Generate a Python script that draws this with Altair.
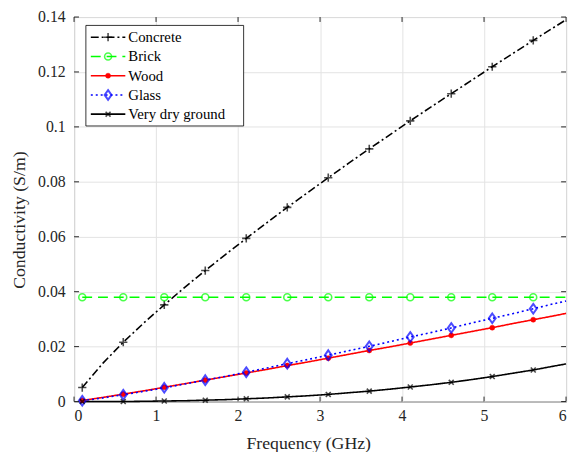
import altair as alt
import pandas as pd

# ---------------- data ----------------
materials = ["Concrete", "Brick", "Wood", "Glass", "Very dry ground"]

freq = [0.1, 0.35, 0.6, 0.85, 1.1, 1.35, 1.6, 1.85, 2.1, 2.35, 2.6, 2.85, 3.1,
        3.35, 3.6, 3.85, 4.1, 4.35, 4.6, 4.85, 5.1, 5.35, 5.6, 5.85, 6.0]

marker_freq = [0.1, 0.6, 1.1, 1.6, 2.1, 2.6, 3.1, 3.6, 4.1, 4.6, 5.1, 5.6]

concrete = [0.0051, 0.0139, 0.0216, 0.0286, 0.0352, 0.0416, 0.0477, 0.0536, 0.0594,
            0.0651, 0.0707, 0.0761, 0.0815, 0.0868, 0.0920, 0.0971, 0.1022, 0.1072,
            0.1121, 0.1170, 0.1219, 0.1267, 0.1315, 0.1362, 0.1390]
brick = [0.038, 0.038, 0.038, 0.038, 0.038, 0.038, 0.038, 0.038, 0.038, 0.038,
         0.038, 0.038, 0.038, 0.038, 0.038, 0.038, 0.038, 0.038, 0.038, 0.038,
         0.038, 0.038, 0.038, 0.038, 0.038]
wood = [0.0004, 0.0015, 0.0027, 0.0039, 0.0052, 0.0065, 0.0078, 0.0091, 0.0104,
        0.0117, 0.0131, 0.0144, 0.0158, 0.0172, 0.0186, 0.0199, 0.0213, 0.0227,
        0.0241, 0.0255, 0.0269, 0.0284, 0.0298, 0.0312, 0.0321]
glass = [0.0003, 0.0013, 0.0025, 0.0037, 0.0050, 0.0064, 0.0078, 0.0092, 0.0107,
         0.0122, 0.0138, 0.0153, 0.0169, 0.0185, 0.0201, 0.0218, 0.0235, 0.0251,
         0.0268, 0.0286, 0.0303, 0.0320, 0.0338, 0.0356, 0.0366]
dry_ground = [0.0000, 0.0000, 0.0000, 0.0001, 0.0002, 0.0003, 0.0005, 0.0007, 0.0010,
              0.0013, 0.0017, 0.0021, 0.0026, 0.0032, 0.0038, 0.0045, 0.0053, 0.0061,
              0.0070, 0.0080, 0.0091, 0.0103, 0.0115, 0.0129, 0.0137]

x_ticks = [0, 1, 2, 3, 4, 5, 6]
y_ticks = [0, 0.02, 0.04, 0.06, 0.08, 0.1, 0.12, 0.14]

x_title = "Frequency (GHz)"
y_title = "Conductivity (S/m)"

# ---------------- tables ----------------
series = {"Concrete": concrete, "Brick": brick, "Wood": wood,
          "Glass": glass, "Very dry ground": dry_ground}
rows = []
for m in materials:
    for f, s in zip(freq, series[m]):
        rows.append({"material": m, "f": f, "sigma": s,
                     "marker": any(abs(f - mf) < 1e-9 for mf in marker_freq)})
df = pd.DataFrame(rows)
df_mk = df[df["marker"]]

W, H = 499, 390
FONT = "Liberation Serif"
TXT = "#262626"

colors = ["#000000", "#00ff00", "#ff0000", "#0000ff", "#000000"]
dashes = [[8, 3, 2, 3], [10, 6], [1, 0], [2, 3], [1, 0]]
color_scale = alt.Scale(domain=materials, range=colors)
dash_scale = alt.Scale(domain=materials, range=dashes)

xs = alt.Scale(domain=[0, 6], nice=False)
ys = alt.Scale(domain=[0, 0.14], nice=False)

x_axis = alt.Axis(values=x_ticks, format="~g", labelPadding=6,
                  labelFont=FONT, labelFontSize=16, title=None)
y_axis = alt.Axis(values=y_ticks, format="~g", labelPadding=9,
                  labelFont=FONT, labelFontSize=16, title=None)

base = alt.Chart(df)

lines = base.mark_line(strokeWidth=1.6).encode(
    x=alt.X("f:Q", scale=xs, axis=x_axis),
    y=alt.Y("sigma:Q", scale=ys, axis=y_axis),
    color=alt.Color("material:N", scale=color_scale, legend=None),
    strokeDash=alt.StrokeDash("material:N", scale=dash_scale, legend=None),
    detail="material:N",
)

PLUS = "M-1,0L1,0M0,-1L0,1"
CROSS = "M-1,-1L1,1M-1,1L1,-1"
DIAMOND = "M0,-1.4L1,0L0,1.4L-1,0Z"

marker_styles = {
    "Concrete": dict(shape=PLUS, size=70, filled=False, stroke="#000000", strokeWidth=1.6),
    "Brick": dict(shape="circle", size=50, filled=False, stroke="#00ff00", strokeWidth=1.6),
    "Wood": dict(shape="circle", size=26, filled=True, fill="#ff0000", stroke="#ff0000",
                 strokeWidth=0.5, opacity=1),
    "Glass": dict(shape=DIAMOND, size=49, filled=False, stroke="#0000ff", strokeWidth=2),
    "Very dry ground": dict(shape=CROSS, size=25, filled=False, stroke="#000000",
                            strokeWidth=1.6),
}


def point_layer(data, m, xenc, yenc):
    st = dict(marker_styles[m])
    return alt.Chart(data).transform_filter(
        alt.datum.material == m
    ).mark_point(**st).encode(x=xenc, y=yenc)


main_points = [point_layer(df_mk, m, alt.X("f:Q", scale=xs, title=None),
                           alt.Y("sigma:Q", scale=ys, title=None)) for m in materials]

# inner tick marks (MATLAB style box)
df_yt = pd.DataFrame({"tv": y_ticks})
df_xt = pd.DataFrame({"tv": x_ticks})
tick_col = "#262626"
ticks = [
    alt.Chart(df_yt).mark_rule(color=tick_col, strokeWidth=1).encode(
        y=alt.Y("tv:Q", scale=ys, title=None), x=alt.value(0), x2=alt.value(5)),
    alt.Chart(df_yt).mark_rule(color=tick_col, strokeWidth=1).encode(
        y=alt.Y("tv:Q", scale=ys, title=None), x=alt.value(W - 5), x2=alt.value(W)),
    alt.Chart(df_xt).mark_rule(color=tick_col, strokeWidth=1).encode(
        x=alt.X("tv:Q", scale=xs, title=None), y=alt.value(H), y2=alt.value(H - 5)),
    alt.Chart(df_xt).mark_rule(color=tick_col, strokeWidth=1).encode(
        x=alt.X("tv:Q", scale=xs, title=None), y=alt.value(0), y2=alt.value(5)),
]

# axis titles drawn as single text marks (serif font)
df_titles = pd.DataFrame({"xt": [x_title], "yt": [y_title]})
xt = alt.Chart(df_titles).mark_text(
    font=FONT, fontSize=18, color=TXT, align="center", baseline="alphabetic"
).encode(x=alt.value(238), y=alt.value(H + 48), text="xt:N")
yt = alt.Chart(df_titles).mark_text(
    font=FONT, fontSize=18, color=TXT, align="center", baseline="alphabetic",
    angle=270
).encode(x=alt.value(-50), y=alt.value(206), text="yt:N")

# ---------------- legend (drawn inside the plot, top-left) ----------------
LEG_TOP = 20.5
LEG_STEP = 19.5
df_leg = pd.DataFrame({"material": materials})
df_leg["ly"] = [LEG_TOP + i * LEG_STEP for i in range(len(materials))]

leg_box = alt.Chart(df_titles).mark_rect(
    fill="white", stroke="#000000", strokeWidth=0.8
).encode(x=alt.value(12), x2=alt.value(172), y=alt.value(8.5), y2=alt.value(110.5))

leg_lines = alt.Chart(df_leg).mark_rule(strokeWidth=1.6).encode(
    x=alt.value(17), x2=alt.value(52),
    y=alt.Y("ly:Q", scale=None),
    color=alt.Color("material:N", scale=color_scale, legend=None),
    strokeDash=alt.StrokeDash("material:N", scale=dash_scale, legend=None),
)
leg_points = [point_layer(df_leg, m, alt.value(34.5), alt.Y("ly:Q", scale=None))
              for m in materials]
leg_text = alt.Chart(df_leg).mark_text(
    align="left", baseline="middle", font=FONT, fontSize=15, color="#000000"
).encode(x=alt.value(55), y=alt.Y("ly:Q", scale=None), text="material:N")

chart = alt.layer(
    lines, *main_points, *ticks, xt, yt, leg_box, leg_lines, *leg_points, leg_text
).properties(
    width=W, height=H,
    autosize=alt.AutoSizeParams(type="none"),
    padding={"left": 67, "top": 6, "right": 3, "bottom": 48},
).configure(font=FONT).configure_axis(
    labelFont=FONT, labelFontSize=16, labelColor=TXT,
    grid=True, gridColor="#e3e3e3", gridWidth=1, tickSize=0, domain=False,
).configure_view(stroke="#262626", strokeWidth=1)

chart.save("out.html", embed_options={"renderer": "svg", "actions": False})
